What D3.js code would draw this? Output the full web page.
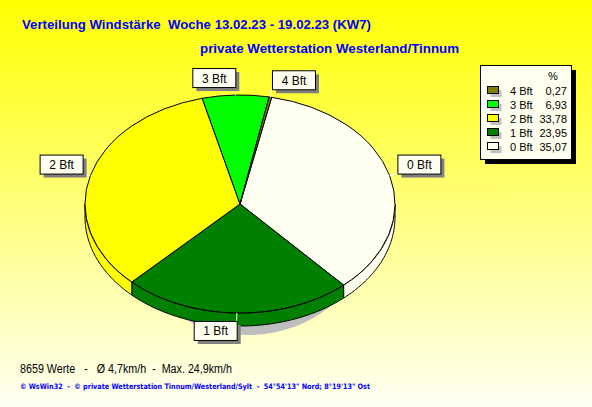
<!DOCTYPE html>
<html><head><meta charset="utf-8">
<script src="https://cdn.jsdelivr.net/npm/d3@7"></script>
<style>html,body{margin:0;padding:0;background:#fff}svg{display:block}text{white-space:pre}</style>
</head><body><svg id="c" width="592" height="407"></svg>
<script>
const categories = ["0 Bft", "1 Bft", "2 Bft", "3 Bft", "4 Bft"];
const values = [35.07, 23.95, 33.78, 6.93, 0.27];
const valueLabels = ["35,07", "23,95", "33,78", "6,93", "0,27"];
const colors = ["#FFFFF2", "#008000", "#FFFF00", "#00FF00", "#808000"];
const legendOrder = [4, 3, 2, 1, 0];
const title1 = "Verteilung Windstärke  Woche 13.02.23 - 19.02.23 (KW7)";
const title2 = "private Wetterstation Westerland/Tinnum";
const statsText = "8659 Werte   -   Ø 4,7km/h  -  Max. 24,9km/h";
const footerText = "© WsWin32  -  © private Wetterstation Tinnum/Westerland/Sylt  -  54°54'13\" Nord; 8°19'13\" Ost";

const W = 592, H = 407;
const svg = d3.select("#c");
const defs = svg.append("defs");
const g0 = defs.append("linearGradient").attr("id", "bg").attr("x1", 0).attr("y1", 0).attr("x2", 0).attr("y2", 1);
g0.append("stop").attr("offset", "0%").attr("stop-color", "#FFFF00");
g0.append("stop").attr("offset", "100%").attr("stop-color", "#FFFFF4");
svg.append("rect").attr("width", W).attr("height", H).attr("fill", "url(#bg)");

// titles
svg.append("text").attr("x", 22).attr("y", 29).attr("fill", "#0000FF")
  .attr("font-family", "Liberation Sans, Arial, sans-serif").attr("font-weight", "bold").attr("font-size", 13)
  .attr("textLength", 349).attr("lengthAdjust", "spacingAndGlyphs").text(title1);
svg.append("text").attr("x", 200).attr("y", 53).attr("fill", "#0000FF")
  .attr("font-family", "Liberation Sans, Arial, sans-serif").attr("font-weight", "bold").attr("font-size", 13)
  .attr("textLength", 259).attr("lengthAdjust", "spacingAndGlyphs").text(title2);

// pie geometry
const cx = 240, cy = 204, rx = 155, ry = 109, depth = 13;
const startA = 11.8 * Math.PI / 180;
const pie = d3.pie().sort(null).value(d => d.v).startAngle(startA).endAngle(startA + 2 * Math.PI);
const data = categories.map((c, i) => ({ c, v: values[i], col: colors[i] }));
const arcs = pie(data);
const ex = a => cx + rx * Math.sin(a);
const ey = a => cy - ry * Math.cos(a);
const line = d3.line();

// shadow (only peeks out below the pie)
svg.append("ellipse").attr("cx", cx + 8).attr("cy", cy + 26).attr("rx", 120).attr("ry", 105).attr("fill", "#BEBEBE");

// side walls
const sideG = svg.append("g");
arcs.forEach(a => {
  let s = a.startAngle, e = a.endAngle;
  const ranges = [];
  for (const off of [0, 2 * Math.PI, -2 * Math.PI]) {
    const lo = Math.max(s + off, Math.PI / 2), hi = Math.min(e + off, 3 * Math.PI / 2);
    if (hi > lo) ranges.push([lo, hi]);
  }
  ranges.forEach(([lo, hi]) => {
    const n = 60, top = [], bot = [];
    for (let k = 0; k <= n; k++) { const t = lo + (hi - lo) * k / n; top.push([ex(t), ey(t)]); }
    for (let k = n; k >= 0; k--) { const t = lo + (hi - lo) * k / n; bot.push([ex(t), ey(t) + depth]); }
    sideG.append("path").attr("d", line(top.concat(bot)) + "Z").attr("fill", a.data.col)
      .attr("stroke", "#000").attr("stroke-width", 1);
  });
});

// top faces
const arcGen = d3.arc().innerRadius(0).outerRadius(rx);
svg.append("g").attr("transform", `translate(${cx},${cy}) scale(1,${ry / rx})`)
  .selectAll("path").data(arcs).join("path")
  .attr("d", arcGen).attr("fill", d => d.data.col)
  .attr("stroke", "#000").attr("stroke-width", 1).attr("vector-effect", "non-scaling-stroke");

// labels
const bw = 43, bh = 19;
const labG = svg.append("g");
arcs.forEach(a => {
  const m = (a.startAngle + a.endAngle) / 2;
  const px = ex(m), py = ey(m);
  const qx = cx + (rx + 8) * Math.sin(m), qy = cy - (ry + 8) * Math.cos(m);
  labG.append("line").attr("x1", px).attr("y1", py).attr("x2", qx).attr("y2", qy).attr("stroke", "#fff").attr("stroke-width", 1);
  const bx = Math.sin(m) < 0 ? qx - bw : qx;
  const by = Math.cos(m) > 0 ? qy - bh : qy;
  labG.append("rect").attr("x", bx + 4).attr("y", by + 4).attr("width", bw).attr("height", bh).attr("fill", "#808080");
  labG.append("rect").attr("x", bx + 0.5).attr("y", by + 0.5).attr("width", bw).attr("height", bh).attr("fill", "#FFFFF0").attr("stroke", "#000");
  labG.append("text").attr("x", bx + bw / 2 + 0.5).attr("y", by + 14.5).attr("text-anchor", "middle")
    .attr("font-family", "Liberation Sans, Arial, sans-serif").attr("font-size", 12).attr("fill", "#000").text(a.data.c);
});

// legend
const lx = 480, ly = 65, lw = 91, lh = 94;
svg.append("rect").attr("x", lx + 5).attr("y", ly + 5).attr("width", lw).attr("height", lh).attr("fill", "#000");
svg.append("rect").attr("x", lx + 0.5).attr("y", ly + 0.5).attr("width", lw).attr("height", lh).attr("fill", "#FFFFF0").attr("stroke", "#000");
svg.append("text").attr("x", 553).attr("y", 80).attr("text-anchor", "middle").attr("font-family", "Liberation Sans, Arial, sans-serif").attr("font-size", 11).text("%");
const rowY = d3.scaleLinear().domain([0, 4]).range([90.5, 146.5]);
legendOrder.forEach((idx, r) => {
  const y = rowY(r);
  svg.append("rect").attr("x", 490.5).attr("y", y - 0.5).attr("width", 11).attr("height", 7).attr("fill", "#C0C0C0");
  svg.append("rect").attr("x", 487.5).attr("y", y - 4).attr("width", 11).attr("height", 7).attr("fill", colors[idx]).attr("stroke", "#000");
  svg.append("text").attr("x", 510).attr("y", y + 4).attr("font-family", "Liberation Sans, Arial, sans-serif").attr("font-size", 11).text(categories[idx]);
  svg.append("text").attr("x", 567).attr("y", y + 4).attr("text-anchor", "end").attr("font-family", "Liberation Sans, Arial, sans-serif").attr("font-size", 11).text(valueLabels[idx]);
});

// bottom text
svg.append("text").attr("x", 20).attr("y", 373).attr("font-family", "Liberation Sans, Arial, sans-serif").attr("font-size", 12).attr("fill", "#000")
  .attr("textLength", 212).attr("lengthAdjust", "spacingAndGlyphs").text(statsText);
svg.append("text").attr("x", 20).attr("y", 389).attr("font-family", "DejaVu Sans, Verdana, sans-serif").attr("font-size", 7.5).attr("font-weight", "bold").attr("fill", "#0000FF")
  .attr("textLength", 350).attr("lengthAdjust", "spacingAndGlyphs").text(footerText);
</script></body></html>
